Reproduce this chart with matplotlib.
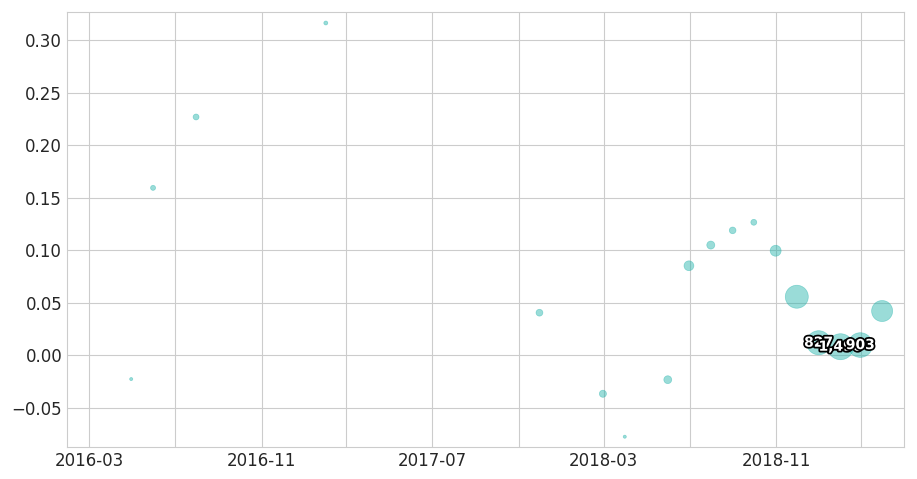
import pandas as pd
import numpy as np
import matplotlib
matplotlib.use('Agg')
import matplotlib.pyplot as plt
import matplotlib.dates as mdates
import matplotlib.patheffects as pe
import seaborn as sns

# data
dates = ['2016-04-30', '2016-05-31', '2016-07-31', '2017-01-31', '2017-11-30',
         '2018-02-28', '2018-03-31', '2018-05-31', '2018-06-30', '2018-07-31',
         '2018-08-31', '2018-09-30', '2018-10-31', '2018-11-30', '2018-12-31',
         '2019-01-31', '2019-02-28', '2019-03-31']
values = [-0.0226, 0.1595, 0.2270, 0.3165, 0.0406,
          -0.0366, -0.0775, -0.0232, 0.0853, 0.1050,
          0.1190, 0.1267, 0.0996, 0.0558, 0.0120,
          0.0082, 0.0098, 0.0422]
volume = [5, 13, 18, 8, 24,
          26, 5, 32, 50, 33,
          23, 18, 62, 274, 300,
          350, 315, 229]
labels = ['', '', '', '', '', '', '', '', '', '', '', '', '', '',
          '827', '1,490', '903', '']

major_ticks = ['2016-03-01', '2016-11-01', '2017-07-01', '2018-03-01', '2018-11-01']
minor_ticks = ['2016-07-01', '2017-03-01', '2017-11-01', '2018-07-01', '2019-03-01']

df = pd.DataFrame({'date': pd.to_datetime(dates), 'value': values,
                   'volume': volume, 'label': labels})

sns.set_style('whitegrid')
fig = plt.figure(figsize=(9.17, 4.79), dpi=100)
ax = fig.add_axes([0.0731, 0.0668, 0.9127, 0.9082])

ax.scatter(df['date'], df['value'], s=df['volume'], color='lightseagreen',
           alpha=0.45, edgecolor='lightseagreen', linewidth=0.5, zorder=3)

for d, v, t in zip(df['date'], df['value'], df['label']):
    if t:
        ax.text(d, v, t, ha='center', va='center', fontsize=10, fontweight='bold',
                color='white', zorder=4,
                path_effects=[pe.withStroke(linewidth=2.5, foreground='black')])

ax.set_xticks(pd.to_datetime(major_ticks))
ax.set_xticks(pd.to_datetime(minor_ticks), minor=True)
ax.xaxis.set_major_formatter(mdates.DateFormatter('%Y-%m'))
ax.grid(True, which='both', color='#cccccc', linewidth=0.8)
ax.set_axisbelow(True)

ax.set_xlim(pd.Timestamp('2016-01-30'), pd.Timestamp('2019-05-01'))
ax.set_ylim(-0.0873, 0.327)
ax.set_yticks(np.round(np.arange(-0.05, 0.31, 0.05), 2))
ax.tick_params(labelsize=12, colors='#262626', length=0)
for sp in ax.spines.values():
    sp.set_color('#cccccc')

plt.savefig('out.png', dpi=100)
